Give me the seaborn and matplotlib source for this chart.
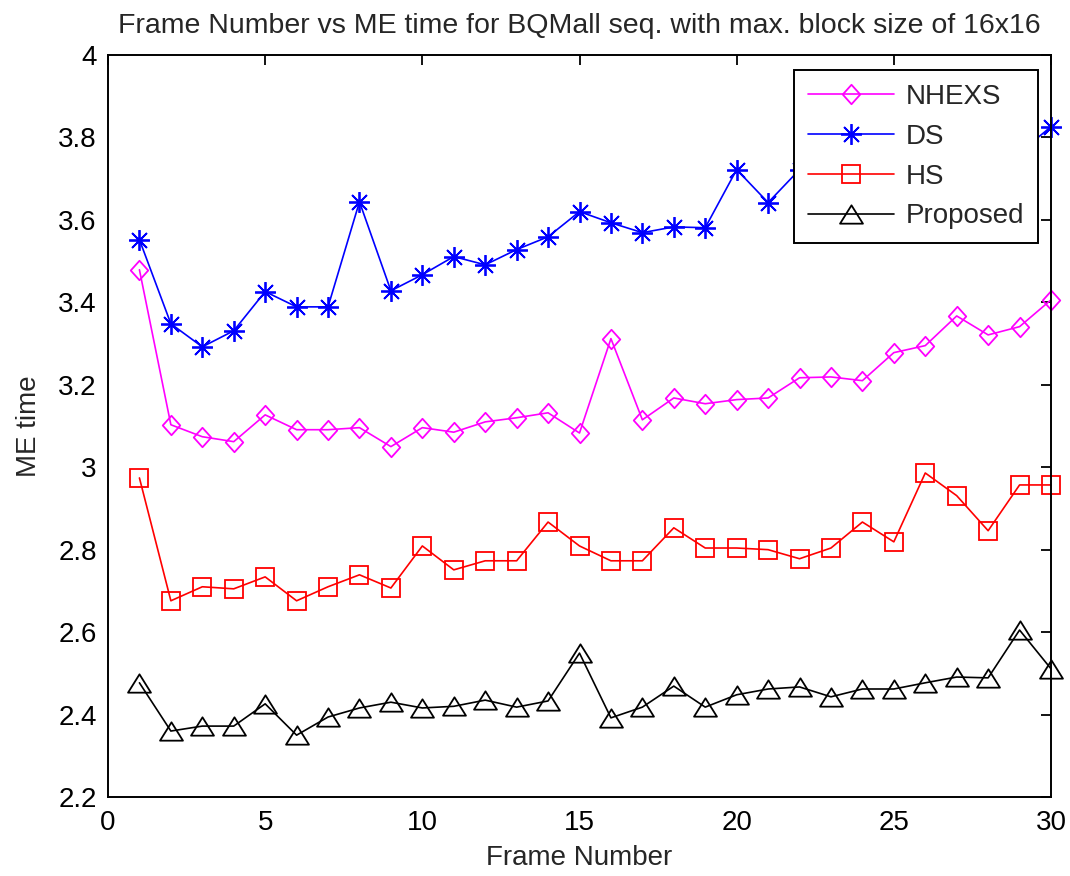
import numpy as np
import pandas as pd
import matplotlib
matplotlib.use("Agg")
import matplotlib.pyplot as plt
from matplotlib.path import Path
import seaborn as sns

# ---- data -------------------------------------------------------------
frames = list(range(1, 31))

nhexs = [3.479, 3.103, 3.074, 3.062, 3.127, 3.091, 3.091, 3.096, 3.050, 3.096,
         3.085, 3.110, 3.120, 3.132, 3.083, 3.312, 3.115, 3.168, 3.154, 3.164,
         3.168, 3.217, 3.219, 3.210, 3.278, 3.295, 3.367, 3.321, 3.341, 3.406]

ds = [3.552, 3.348, 3.292, 3.331, 3.426, 3.389, 3.389, 3.644, 3.428, 3.467,
      3.511, 3.491, 3.528, 3.559, 3.620, 3.593, 3.569, 3.583, 3.581, 3.722,
      3.642, 3.722, 3.700, 3.740, 3.720, 3.760, 3.780, 3.750, 3.763, 3.826]

hs = [2.974, 2.676, 2.710, 2.705, 2.734, 2.676, 2.710, 2.739, 2.707, 2.809,
      2.751, 2.773, 2.773, 2.867, 2.809, 2.773, 2.773, 2.853, 2.804, 2.804,
      2.800, 2.778, 2.804, 2.867, 2.819, 2.986, 2.931, 2.846, 2.957, 2.957]

proposed = [2.477, 2.360, 2.372, 2.372, 2.426, 2.350, 2.394, 2.416, 2.430, 2.416,
            2.420, 2.435, 2.418, 2.433, 2.549, 2.392, 2.418, 2.469, 2.418, 2.448,
            2.462, 2.467, 2.443, 2.462, 2.462, 2.477, 2.491, 2.489, 2.605, 2.511]

series_names = ["NHEXS", "DS", "HS", "Proposed"]
series_values = [nhexs, ds, hs, proposed]

x_ticks = [0, 5, 10, 15, 20, 25, 30]
y_ticks = [2.2, 2.4, 2.6, 2.8, 3.0, 3.2, 3.4, 3.6, 3.8, 4.0]
y_tick_labels = ["2.2", "2.4", "2.6", "2.8", "3", "3.2", "3.4", "3.6", "3.8", "4"]

# ---- styling ----------------------------------------------------------
sns.set_theme(style="white")
plt.rcParams["font.family"] = ["Liberation Sans", "DejaVu Sans"]
FS = 20

colors = {"NHEXS": "#ff00ff", "DS": "#0000ff", "HS": "#ff0000", "Proposed": "#000000"}

diamond = Path([(0, 1), (0.9, 0), (0, -1), (-0.9, 0), (0, 1)],
               [Path.MOVETO, Path.LINETO, Path.LINETO, Path.LINETO, Path.CLOSEPOLY])
triangle = Path([(0, 0.8), (1, -0.8), (-1, -0.8), (0, 0.8)],
                [Path.MOVETO, Path.LINETO, Path.LINETO, Path.CLOSEPOLY])
markers = {"NHEXS": diamond, "DS": (8, 2, 0), "HS": "s", "Proposed": triangle}
msizes = {"NHEXS": 14, "DS": 15, "HS": 13.5, "Proposed": 16.5}

df = pd.DataFrame({
    "Frame Number": np.tile(frames, len(series_names)),
    "ME time": np.concatenate(series_values),
    "method": np.repeat(series_names, len(frames)),
})

fig = plt.figure(figsize=(10.70, 8.76), dpi=100)
ax = fig.add_axes([108 / 1070, 1 - 797 / 876, (1051 - 108) / 1070, (797 - 55) / 876])

for name in series_names:
    sub = df[df["method"] == name]
    sns.lineplot(data=sub, x="Frame Number", y="ME time", ax=ax,
                 color=colors[name], marker=markers[name], markersize=msizes[name],
                 markerfacecolor="none", markeredgecolor=colors[name],
                 markeredgewidth=1.3, linewidth=1.2, label=name, sort=False,
                 clip_on=False)

ax.set_xlim(0, 30)
ax.set_ylim(2.2, 4.0)
ax.set_xticks(x_ticks)
ax.set_xticklabels([str(t) for t in x_ticks])
ax.set_yticks(y_ticks)
ax.set_yticklabels(y_tick_labels)
ax.tick_params(axis="both", which="both", direction="in", length=7, width=1.3,
               top=True, right=True, labelsize=FS, colors="black")
ax.tick_params(axis="x", pad=9)
ax.tick_params(axis="y", pad=8)

for s in ax.spines.values():
    s.set_visible(True)
    s.set_color("black")
    s.set_linewidth(1.4)
    s.set_zorder(5)

ax.set_xlabel("Frame Number", fontsize=FS, labelpad=7)
ax.set_ylabel("ME time", fontsize=FS, labelpad=12)
ax.set_title("Frame Number vs ME time for BQMall seq. with max. block size of 16x16",
             fontsize=20.5, pad=16)

leg = ax.legend(loc="upper right", bbox_to_anchor=(0.986, 0.980), borderaxespad=0,
                fontsize=FS, frameon=True, fancybox=False, handlelength=3.1,
                handletextpad=0.4, labelspacing=0.5, borderpad=0.5)
leg.get_frame().set_edgecolor("black")
leg.get_frame().set_linewidth(1.4)
leg.get_frame().set_facecolor("white")
leg.get_frame().set_alpha(1.0)
leg.set_zorder(10)

fig.savefig("out.png", dpi=100, facecolor="white")
